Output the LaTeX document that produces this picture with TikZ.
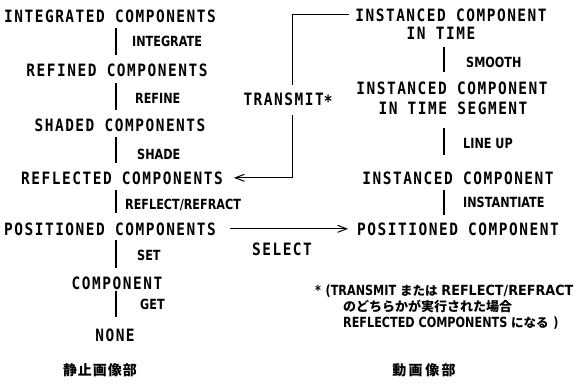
\documentclass[tikz,border=0pt]{standalone}
\usepackage{fontspec}
\newfontfamily\monof{DejaVu Sans Mono}[FakeStretch=0.85, LetterSpace=9]
\newfontfamily\lblf{DejaVu Sans}[FakeStretch=0.8]
\newfontfamily\jpf{Noto Sans CJK JP}
\usetikzlibrary{arrows.meta}
\begin{document}
\begin{tikzpicture}[x=1pt,y=-1pt,
  mainf/.style={font=\fontsize{17}{19}\selectfont\monof\bfseries, inner sep=0pt, anchor=base},
  lbl/.style={font=\fontsize{14}{16}\selectfont\lblf\bfseries, inner sep=0pt, anchor=base west},
  jtitle/.style={font=\fontsize{14}{16}\selectfont\jpf\bfseries, inner sep=0pt},
  vbar/.style={line width=2.6pt},
  conn/.style={line width=1pt},
  arr/.style={line width=1pt, -{Straight Barb[length=9pt,width=7pt]}},
]
\useasboundingbox (0,0) rectangle (575,389);
\coordinate (lx) at (116,0);
\coordinate (rx) at (444,0);
\coordinate (tc) at (292,13);
% left column
\node[mainf] (int) at (110,22) {INTEGRATED COMPONENTS};
\node[mainf] (ref) at (117,76) {REFINED COMPONENTS};
\node[mainf] (sha) at (120,131) {SHADED COMPONENTS};
\node[mainf] (rfl) at (122,184) {REFLECTED COMPONENTS};
\node[mainf] (pos) at (110,235) {POSITIONED COMPONENTS};
\node[mainf] (cmp) at (117,289) {COMPONENT};
\node[mainf] (non) at (115,341) {NONE};
\node[lbl] (lint) at (132,46) {INTEGRATE};
\node[lbl] (lref) at (135,103) {REFINE};
\node[lbl] (lsha) at (137,159) {SHADE};
\node[lbl] (lrfl) at (125,209) {REFLECT/REFRACT};
\node[lbl] (lset) at (137,260) {SET};
\node[lbl] (lget) at (140,309) {GET};
\draw[vbar, shorten <=6pt, shorten >=8.6pt] (int.south -| lx) -- (ref.north -| lx);
\draw[vbar, shorten <=7pt, shorten >=8.6pt] (ref.south -| lx) -- (sha.north -| lx);
\draw[vbar, shorten <=6pt, shorten >=8.6pt] (sha.south -| lx) -- (rfl.north -| lx);
\draw[vbar, shorten <=6pt, shorten >=9.6pt] (rfl.south -| lx) -- (pos.north -| lx);
\draw[vbar, shorten <=5pt, shorten >=8.6pt] (pos.south -| lx) -- (cmp.north -| lx);
\draw[vbar, shorten <=2pt, shorten >=11pt] (cmp.south -| lx) -- (non.north -| lx);
% right column
\node[mainf] (it1) at (451,21) {INSTANCED COMPONENT};
\node[mainf] (it2) at (441,39) {IN TIME};
\node[mainf] (its1) at (452,94) {INSTANCED COMPONENT};
\node[mainf] (its2) at (453,114) {IN TIME SEGMENT};
\node[mainf] (ic) at (458,184) {INSTANCED COMPONENT};
\node[mainf] (pc) at (458,235) {POSITIONED COMPONENT};
\node[lbl] (lsm) at (466,67) {SMOOTH};
\node[lbl] (lln) at (463,148) {LINE UP};
\node[lbl] (lin) at (463,207) {INSTANTIATE};
\draw[vbar, shorten <=8pt, shorten >=9.6pt] (it2.south -| rx) -- (its1.north -| rx);
\draw[vbar, shorten <=14pt, shorten >=16.6pt] (its2.south -| rx) -- (ic.north -| rx);
\draw[vbar, shorten <=6pt, shorten >=7.6pt] (ic.south -| rx) -- (pc.north -| rx);
% transmit connector
\draw[arr] ([xshift=-6pt]it1.west) -- (it1.west -| tc) -- (tc |- rfl.east) -- ([xshift=11pt]rfl.east);
\node[font=\fontsize{17}{19}\selectfont\monof\bfseries, fill=white, inner xsep=0pt, inner ysep=8pt] (tr) at (288,100) {TRANSMIT\raisebox{-2pt}{*}};
% select connector
\draw[arr] ([xshift=14pt]pos.east) -- ([xshift=-9pt]pc.west);
\node[mainf] (sel) at (282,255) {SELECT};
% footnote
\node[font=\fontsize{14}{16}\selectfont\lblf\bfseries, align=left, anchor=north west, inner sep=0pt] (fn) at (315,285)
{*\,\,(TRANSMIT {\jpf\fontsize{12.5}{16}\selectfont または} \scalebox{1.14}[1]{REFLECT/REFRACT}\\
\hspace*{28pt}{\jpf\fontsize{13}{16}\selectfont のどちらかが実行された場合}\\
\hspace*{28pt}REFLECTED COMPONENTS {\jpf\fontsize{12.5}{16}\selectfont になる}\,\,)};
% titles
\node[jtitle] (jl) at (100,370) {静\hspace{1pt}止\hspace{1pt}画\hspace{1pt}像\hspace{1pt}部};
\node[jtitle] (jr) at (424,370) {動\hspace{2.5pt}画\hspace{2.5pt}像\hspace{2.5pt}部};
\end{tikzpicture}
\end{document}
